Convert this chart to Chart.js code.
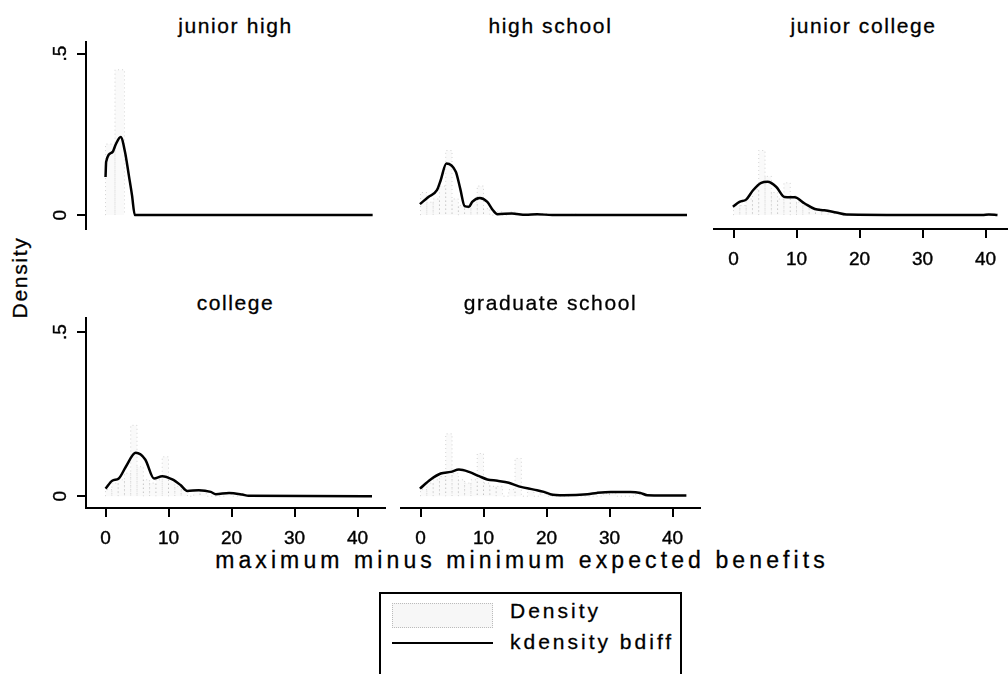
<!DOCTYPE html>
<html>
<head>
<meta charset="utf-8">
<title>bdiff by education</title>
<script src="https://cdn.jsdelivr.net/npm/chart.js@4.4.1/dist/chart.umd.min.js"></script>
<style>
  html, body { margin: 0; padding: 0; background: #fff; }
  #page {
    position: relative; width: 1008px; height: 674px; overflow: hidden;
    background: #fff; color: #000;
    font-family: "Liberation Sans", Arial, Helvetica, sans-serif;
  }
  #page canvas { position: absolute; }
  .panel-title {
    position: absolute; text-align: center; white-space: nowrap;
    font-size: 21px; line-height: 21px; letter-spacing: 1.6px;
    -webkit-text-stroke: 0.3px #000;
  }
  #ytitle {
    position: absolute; left: -41px; top: 267px; width: 120px;
    text-align: center; font-size: 21px; line-height: 21px; letter-spacing: 1.7px;
    transform: rotate(-90deg); -webkit-text-stroke: 0.3px #000;
  }
  #xtitle {
    position: absolute; left: 122px; top: 549px; width: 800px;
    text-align: center; white-space: nowrap;
    font-size: 23px; line-height: 23px; letter-spacing: 4.1px;
    -webkit-text-stroke: 0.3px #000;
  }
  #legend {
    position: absolute; left: 379px; top: 592px; width: 303px; height: 120px;
    box-sizing: border-box; border: 2px solid #000; background: #fff;
  }
  #legend .swatch-hist {
    position: absolute; left: 11px; top: 9px; width: 101px; height: 25px;
    box-sizing: border-box; border: 1px dotted #bbb; background: rgba(0,0,0,0.03);
  }
  #legend .swatch-line {
    position: absolute; left: 11px; top: 48px; width: 101px; height: 2px; background: #000;
  }
  #legend .label {
    position: absolute; left: 129px; font-size: 21px; line-height: 21px; letter-spacing: 3px;
    white-space: nowrap; -webkit-text-stroke: 0.3px #000;
  }
</style>
</head>
<body>
<div id="page">
  <div id="ytitle">Density</div>
  <div id="xtitle">maximum minus minimum expected benefits</div>
  <div id="legend">
    <div class="swatch-hist"></div>
    <div class="label" style="top:6px">Density</div>
    <div class="swatch-line"></div>
    <div class="label" style="top:37px">kdensity bdiff</div>
  </div>
</div>
<script>
// education groups, one panel each
const groupNames = ['junior high', 'high school', 'junior college', 'college', 'graduate school'];

const xTickValues = [0, 10, 20, 30, 40];
const yTickValues = [0, 0.5];
const yTickLabels = ['0', '.5'];

// kdensity bdiff, by group
const kdXJuniorHigh = [0, 0.1, 1.1, 1.6, 2.4, 3.1, 3.7, 4.2, 4.65, 42.4];
const kdYJuniorHigh = [0.118, 0.165, 0.195, 0.218, 0.242, 0.195, 0.123, 0.062, 0, 0];

const kdXHighSchool = [-0.1, 1.3, 2.6, 3.2, 4.1, 5.6, 6.3, 7.0, 7.7, 8.2, 9.4, 10.6, 11.5, 12.2, 14.5, 16.7, 18.5, 20.9, 42.3];
const kdYHighSchool = [0.034, 0.057, 0.077, 0.108, 0.16, 0.134, 0.082, 0.028, 0.026, 0.041, 0.053, 0.041, 0.015, 0.003, 0.005, 0.001, 0.003, 0, 0];

const kdXJuniorCollege = [-0.1, 0.95, 2.0, 3.1, 4.4, 5.4, 6.8, 8.1, 9.7, 11.3, 12.9, 14.4, 16.3, 17.9, 39.5, 40.5, 41.9];
const kdYJuniorCollege = [0.026, 0.041, 0.048, 0.077, 0.1, 0.103, 0.087, 0.056, 0.055, 0.036, 0.019, 0.015, 0.008, 0.002, 0, 0.002, 0];

const kdXCollege = [0, 1.06, 2.1, 3.2, 4.8, 6.3, 7.7, 9.0, 10.6, 11.9, 13.0, 14.8, 16.7, 17.5, 19.6, 21.7, 22.7, 42.3];
const kdYCollege = [0.023, 0.047, 0.054, 0.089, 0.132, 0.112, 0.054, 0.061, 0.051, 0.034, 0.016, 0.018, 0.013, 0.006, 0.01, 0.005, 0.001, 0];

const kdXGraduate = [-0.1, 1.6, 3.2, 4.8, 6.1, 7.7, 9.3, 10.6, 12.2, 14.0, 15.6, 18.0, 19.6, 20.6, 22.7, 26.5, 28.0, 30.2, 33.3, 34.9, 36.0, 42.2];
const kdYGraduate = [0.023, 0.051, 0.069, 0.074, 0.081, 0.074, 0.061, 0.051, 0.047, 0.041, 0.03, 0.02, 0.013, 0.006, 0.003, 0.006, 0.01, 0.013, 0.013, 0.01, 0.003, 0.002];

// histogram bins (left edge, density), by group
const histBinWidth = [1.5, 1, 1, 1, 1];

const histLeftJuniorHigh = [0, 1.5];
const histHJuniorHigh = [0.22, 0.45];

const histLeftHighSchool = [0, 1, 2, 3, 4, 5, 6, 7, 8, 9, 10, 12, 14, 19, 24, 29];
const histHHighSchool = [0.07, 0.04, 0.05, 0.09, 0.2, 0.05, 0.03, 0.02, 0.04, 0.09, 0.02, 0.01, 0.01, 0.005, 0.003, 0.002];

const histLeftJuniorCollege = [0, 1, 2, 3, 4, 5, 6, 7, 8, 9, 10, 11, 12, 13, 14, 15, 16, 40];
const histHJuniorCollege = [0.03, 0.03, 0.05, 0.08, 0.2, 0.12, 0.07, 0.05, 0.1, 0.06, 0.04, 0.03, 0.02, 0.02, 0.015, 0.01, 0.008, 0.003];

const histLeftCollege = [0, 1, 2, 3, 4, 5, 6, 7, 8, 9, 10, 11, 12, 14, 15, 19, 21];
const histHCollege = [0.02, 0.04, 0.05, 0.07, 0.216, 0.09, 0.05, 0.04, 0.05, 0.12, 0.05, 0.03, 0.02, 0.02, 0.015, 0.01, 0.005];

const histLeftGraduate = [0, 1, 2, 3, 4, 5, 6, 7, 8, 9, 10, 11, 12, 14, 15, 17, 19, 24, 29, 30, 34];
const histHGraduate = [0.02, 0.04, 0.05, 0.06, 0.19, 0.07, 0.05, 0.04, 0.05, 0.13, 0.04, 0.03, 0.03, 0.02, 0.115, 0.02, 0.015, 0.005, 0.008, 0.01, 0.005];

const kdX = [kdXJuniorHigh, kdXHighSchool, kdXJuniorCollege, kdXCollege, kdXGraduate];
const kdY = [kdYJuniorHigh, kdYHighSchool, kdYJuniorCollege, kdYCollege, kdYGraduate];
const histLeft = [histLeftJuniorHigh, histLeftHighSchool, histLeftJuniorCollege, histLeftCollege, histLeftGraduate];
const histH = [histHJuniorHigh, histHHighSchool, histHJuniorCollege, histHCollege, histHGraduate];

// grid of plot regions
const colLeft = [86, 401, 714];
const rows = [
  { top: 42, height: 187, yMin: -0.043, yMax: 0.536, titleTop: 15 },
  { top: 318, height: 190, yMin: -0.036, yMax: 0.543, titleTop: 292 }
];
const plotWidth = 299;
const xMin = -3.1, xMax = 44.36;
const axisRoom = 60;
const panels = [
  { row: 0, col: 0, showX: false, showY: true },
  { row: 0, col: 1, showX: false, showY: false },
  { row: 0, col: 2, showX: true, showY: false },
  { row: 1, col: 0, showX: true, showY: true },
  { row: 1, col: 1, showX: true, showY: false }
];

Chart.defaults.font.family = '"Liberation Sans", Arial, Helvetica, sans-serif';
Chart.defaults.color = '#000';

// y tick labels run bottom-to-top, drawn beside the axis
const rotatedYLabels = {
  id: 'rotatedYLabels',
  afterDraw(chart) {
    const y = chart.scales.y;
    if (!y.options.display) return;
    const ctx = chart.ctx;
    ctx.save();
    ctx.font = '19px "Liberation Sans", Arial, sans-serif';
    ctx.fillStyle = '#000';
    ctx.strokeStyle = '#000';
    ctx.lineWidth = 0.4;
    ctx.textAlign = 'center';
    ctx.textBaseline = 'middle';
    yTickValues.forEach((v, i) => {
      ctx.save();
      ctx.translate(y.right - 25, y.getPixelForValue(v));
      ctx.rotate(-Math.PI / 2);
      ctx.fillText(yTickLabels[i], 0, 0);
      ctx.strokeText(yTickLabels[i], 0, 0);
      ctx.restore();
    });
    ctx.restore();
  }
};

function histOutline(lefts, heights, width) {
  const pts = [];
  lefts.forEach((x0, i) => {
    const x1 = x0 + width;
    pts.push({ x: x0, y: 0 }, { x: x0, y: heights[i] }, { x: x1, y: heights[i] }, { x: x1, y: 0 });
  });
  return pts;
}

const page = document.getElementById('page');

panels.forEach((p, i) => {
  const r = rows[p.row];

  const title = document.createElement('div');
  title.className = 'panel-title';
  title.style.left = colLeft[p.col] + 'px';
  title.style.width = plotWidth + 'px';
  title.style.top = r.titleTop + 'px';
  title.textContent = groupNames[i];
  page.appendChild(title);

  const canvas = document.createElement('canvas');
  canvas.width = axisRoom + plotWidth + 4;
  canvas.height = 4 + r.height + axisRoom;
  canvas.style.left = (colLeft[p.col] - axisRoom) + 'px';
  canvas.style.top = (r.top - 4) + 'px';
  page.appendChild(canvas);

  const axisGrid = { display: true, drawOnChartArea: false, drawTicks: true, tickLength: 9, lineWidth: 2, color: '#000' };
  const axisBorder = { display: true, color: '#000', width: 2 };

  new Chart(canvas.getContext('2d'), {
    type: 'line',
    data: {
      datasets: [
        {
          label: 'Density',
          data: histOutline(histLeft[i], histH[i], histBinWidth[i]),
          borderColor: 'rgba(0,0,0,0.18)',
          borderWidth: 1,
          borderDash: [1, 3],
          backgroundColor: 'rgba(0,0,0,0.02)',
          fill: 'origin',
          pointRadius: 0,
          tension: 0
        },
        {
          label: 'kdensity bdiff',
          data: kdX[i].map((x, k) => ({ x: x, y: kdY[i][k] })),
          borderColor: '#000',
          borderWidth: 2.5,
          fill: false,
          pointRadius: 0,
          cubicInterpolationMode: 'monotone'
        }
      ]
    },
    options: {
      responsive: false,
      animation: false,
      events: [],
      // both scales are sized in afterFit, shown or not, so every plot area
      // sits axisRoom px in from the canvas left and up from its bottom
      layout: { padding: { left: 0, top: 4, right: 4, bottom: 0 } },
      plugins: { legend: { display: false }, tooltip: { enabled: false } },
      scales: {
        x: {
          type: 'linear', min: xMin, max: xMax, display: p.showX,
          afterFit: s => { s.height = axisRoom; },
          afterBuildTicks: s => { s.ticks = xTickValues.map(v => ({ value: v })); },
          ticks: {
            font: { size: 19 }, color: '#000', padding: 10, maxRotation: 0, autoSkip: false,
            textStrokeColor: '#000', textStrokeWidth: 0.4,
            callback: v => String(v)
          },
          grid: axisGrid,
          border: axisBorder
        },
        y: {
          type: 'linear', min: r.yMin, max: r.yMax, display: p.showY,
          afterFit: s => { s.width = axisRoom; },
          afterBuildTicks: s => { s.ticks = yTickValues.map(v => ({ value: v })); },
          ticks: { display: false },
          grid: axisGrid,
          border: axisBorder
        }
      }
    },
    plugins: [rotatedYLabels]
  });
});
</script>
</body>
</html>
